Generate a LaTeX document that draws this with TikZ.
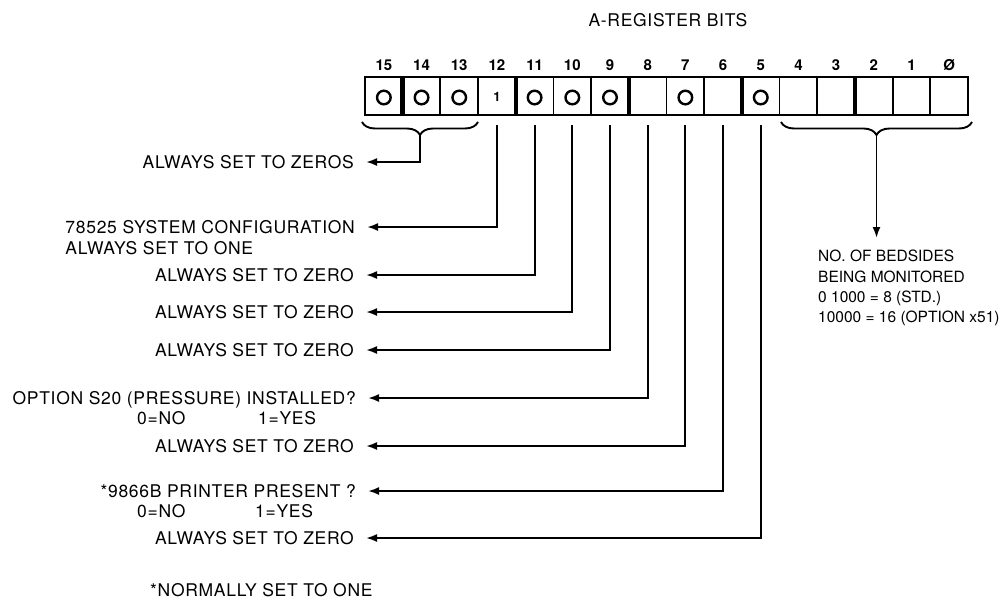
\documentclass[tikz,border=0pt]{standalone}
\usepackage{fontspec}
\setmainfont{TeX Gyre Heros}
\newfontfamily\spaced[LetterSpace=4]{TeX Gyre Heros}
\usetikzlibrary{arrows.meta,decorations.pathreplacing}
\begin{document}
\begin{tikzpicture}[x=1pt,y=-1pt,
  lab/.style={font=\spaced\fontsize{17.5}{20}\selectfont, inner sep=0pt, text height=12.6pt, text depth=0pt, anchor=east},
  sub/.style={font=\spaced\fontsize{17.5}{20}\selectfont, inner sep=0pt, text height=12.6pt, text depth=0pt, anchor=west},
  rtext/.style={font=\fontsize{15.5}{20}\selectfont, inner sep=0pt, text height=11.2pt, text depth=0pt, anchor=west},
  bitnum/.style={font=\bfseries\fontsize{15}{16}\selectfont, inner sep=0pt},
  cell/.style={draw, line width=1.8pt, minimum width=37.69pt, minimum height=38pt, inner sep=0pt, outer sep=0pt},
  wire/.style={line width=1.9pt},
  conn/.style={line width=1.9pt, -{Latex[length=11pt,width=8pt]}},
  bracedeco/.style={line width=1.9pt, decorate, decoration={brace, mirror, amplitude=13pt}},
  zerocirc/.style={line width=2.4pt}
]
\useasboundingbox (0,0) rectangle (1007,611);

% title
\node[font=\spaced\fontsize{17.5}{20}\selectfont, inner sep=0pt] (title) at (668,20) {A-REGISTER BITS};

% cells
\foreach \b in {0,...,15} {
  \node[cell] (c\b) at ({365+(15.5-\b)*37.69},96) {};
  \node[bitnum] (n\b) at ({365+(15.5-\b)*37.69},65) {\ifnum\b=0 Ø\else\b\fi};
}
% thick dividers
\foreach \b in {14,11,8,5,2} {
  \draw[line width=4.5pt] (c\b.north west) -- (c\b.south west);
}
\draw[line width=2.5pt] (c15.north west) rectangle (c0.south east);
% contents
\foreach \b in {15,14,13,11,10,9,7,5} {
  \draw[zerocirc] ([yshift=-1.5pt]c\b.center) circle (6.8);
}
\node[font=\bfseries\fontsize{13}{14}\selectfont, inner sep=0pt] (one) at ([yshift=-1pt]c12.center) {1};

% braces
\draw[bracedeco] (362,122) -- (478,122);
\coordinate (b1) at (420,135);
\draw[bracedeco] (781,122) -- (972,122);
\coordinate (b2) at (876.5,135);
\coordinate (b2end) at (876.5,238);

% left labels
\node[lab] (t15) at (354,162) {ALWAYS SET TO ZEROS};
\node[lab] (t12) at (355,227) {78525 SYSTEM CONFIGURATION};
\node[sub] (t12b) at (t12.west |- 0,248) {ALWAYS SET TO ONE};
\node[lab] (t11) at (354,275) {ALWAYS SET TO ZERO};
\node[lab] (t10) at (354,312) {ALWAYS SET TO ZERO};
\node[lab] (t9) at (354,350) {ALWAYS SET TO ZERO};
\node[lab] (t8) at (356,398) {OPTION S20 (PRESSURE) INSTALLED?};
\node[sub] (t8a) at (137,418) {0=NO};
\node[sub] (t8b) at (258,418) {1=YES};
\node[lab] (t7) at (354,446) {ALWAYS SET TO ZERO};
\node[lab] (t6) at (356,491) {*9866B PRINTER PRESENT ?};
\node[sub] (t6a) at (137,511) {0=NO};
\node[sub] (t6b) at (255,511) {1=YES};
\node[lab] (t5) at (354,538) {ALWAYS SET TO ZERO};
\node[sub] (foot) at (150,590) {*NORMALLY SET TO ONE};

% right labels
\node[rtext] (r1) at (818,256) {NO. OF BEDSIDES};
\node[rtext] (r2) at (818,277) {BEING MONITORED};
\node[rtext] (r3) at (818,297) {0 1000 = 8 (STD.)};
\node[rtext] (r4) at (818,317) {10000 = 16 (OPTION x51)};

% connectors
\draw[conn] (b1) |- ([xshift=12pt]t15.east);
\foreach \b in {12,11,10,9,8,7,6,5} {
  \draw[conn] ([yshift=-10pt]c\b.south) |- ([xshift=12pt]t\b.east);
}
\draw[conn] (b2) -- (b2end);
\end{tikzpicture}
\end{document}
